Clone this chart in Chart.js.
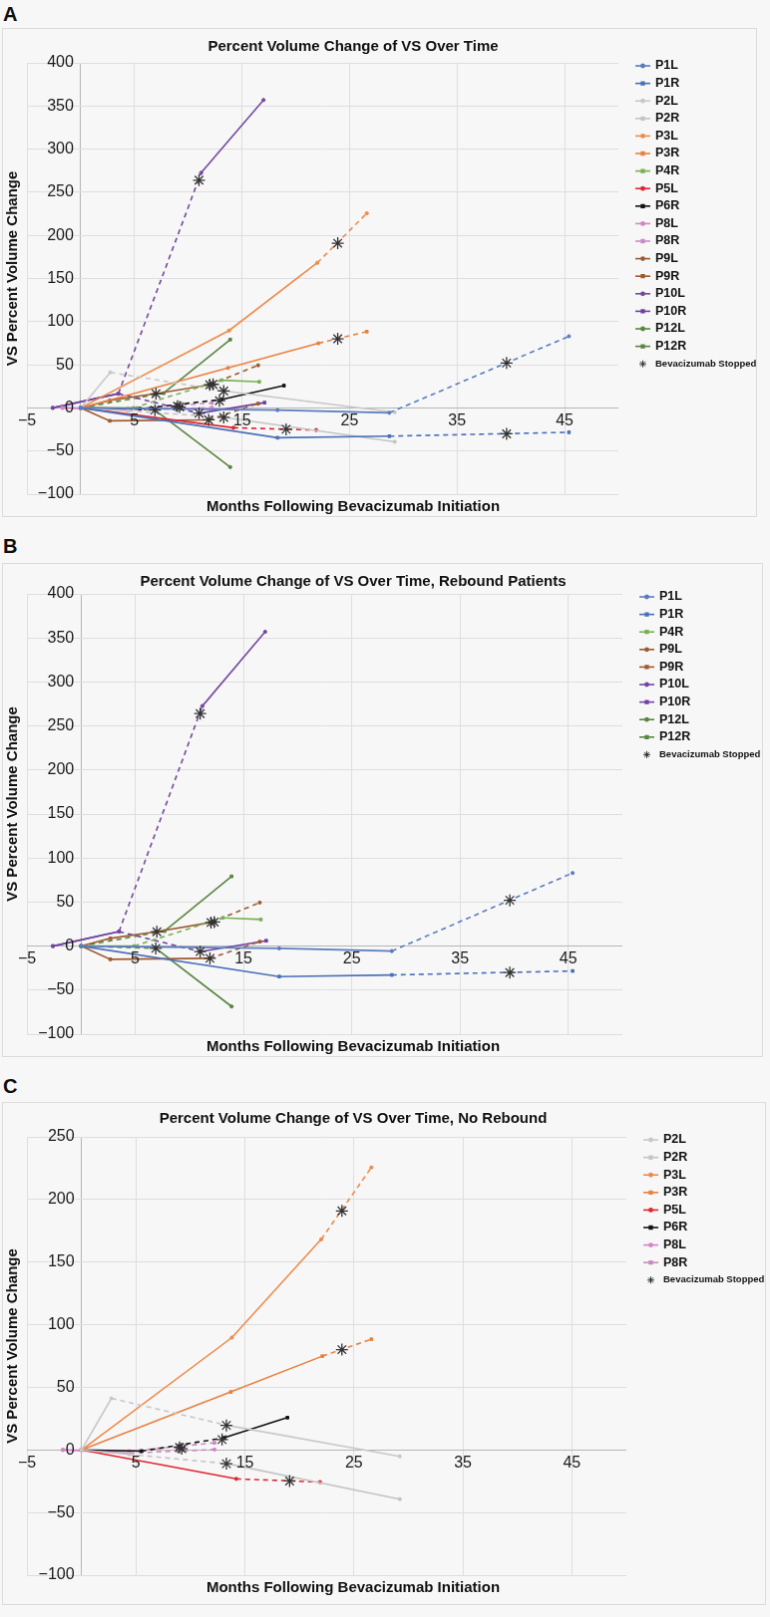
<!DOCTYPE html>
<html>
<head>
<meta charset="utf-8">
<script src="https://cdn.jsdelivr.net/npm/chart.js@4.4.1/dist/chart.umd.min.js"></script>
<style>
  body { margin: 0; background: #f7f7f7; width: 770px; height: 1617px; position: relative; }
  .tag { position: absolute; left: 3px; font: bold 20px "Liberation Sans", Arial, sans-serif; line-height: 20px; color: #111; }
  canvas { position: absolute; left: 2px; border: 1px solid #dcdcdc; background: #f7f7f7; }
</style>
</head>
<body>
<div class="tag" style="top:4px">A</div>
<canvas id="chartA" width="755" height="489" style="top:28px"></canvas>
<div class="tag" style="top:536px">B</div>
<canvas id="chartB" width="761" height="494" style="top:563px"></canvas>
<div class="tag" style="top:1076px">C</div>
<canvas id="chartC" width="764" height="503" style="top:1102px"></canvas>

<script>
'use strict';

// series, months after bevacizumab start / % volume change
var seriesNames = ['P1L', 'P1R', 'P2L', 'P2R', 'P3L', 'P3R', 'P4R', 'P5L', 'P6R',
  'P8L', 'P8R', 'P9L', 'P9R', 'P10L', 'P10R', 'P12L', 'P12R'];

var monthsX = [
  [0, 18.3, 28.7, 45.4],
  [0, 18.3, 28.7, 45.4],
  [0, 2.75, 13.4, 29.2],
  [0, 4.4, 13.4, 29.2],
  [0, 13.8, 22.0, 26.6],
  [0, 13.7, 22.1, 26.6],
  [0, 4.9, 13.1, 16.6],
  [0, 14.2, 21.9],
  [0, 5.5, 13.1, 18.9],
  [-1.7, 4.4, 12.2],
  [-1.7, 4.4, 12.2],
  [0, 2.7, 6.9, 12.0, 16.5],
  [0, 2.7, 11.9, 16.5],
  [-2.6, 3.5, 11.2, 17.0],
  [-2.6, 3.5, 11.0, 17.1],
  [0, 6.9, 13.9],
  [0, 7.7, 13.9]
];

var pctChange = [
  [0, -2.6, -5.7, 83],
  [0, -34.6, -32.8, -28.3],
  [0, 41.2, 19.6, -5.1],
  [0, -3.5, -11, -39.3],
  [0, 89.7, 168.2, 225.6],
  [0, 46.3, 74.9, 88.4],
  [0, 0, 32.1, 30.2],
  [0, -23.1, -25.7],
  [0, -1, 9.7, 25.8],
  [0, -2.5, 0.3],
  [0, -1, 5.7],
  [0, 8.7, 16.3, 26.8, 49.4],
  [0, -15, -13.9, 5],
  [0, 16.5, 272.6, 357],
  [0, 16.5, -6.3, 6.1],
  [0, -2.6, -68.6],
  [0, 17, 79.2]
];

// 1 = interval drawn dashed (one flag per segment)
var offDrug = [
  [0, 0, 1], [0, 0, 1], [0, 1, 0], [0, 1, 0], [0, 0, 1], [0, 0, 1], [0, 1, 0],
  [0, 1], [0, 1, 0], [0, 1], [0, 1], [0, 0, 0, 1], [0, 0, 1], [0, 1, 0], [0, 1, 0],
  [1, 0], [1, 0]
];

// "Bevacizumab Stopped" marks, one per series
var stopX = [39.6, 39.6, 13.3, 13.3, 23.9, 23.9, 12.3, 19.1, 12.9, 9.0, 9.2, 12.0, 11.9, 11.0, 11.0, 6.9, 7.0];
var stopY = [52, -30.1, 19.6, -11, 190.9, 80.1, 27.3, -24.8, 8.3, 2, 1, 26.8, -13.9, 264, -6.3, -2.6, 16.3];

var reboundGroup = ['P1L', 'P1R', 'P4R', 'P9L', 'P9R', 'P10L', 'P10R', 'P12L', 'P12R'];
var noReboundGroup = ['P2L', 'P2R', 'P3L', 'P3R', 'P5L', 'P6R', 'P8L', 'P8R'];

var xGrid = [-5, 0, 5, 15, 25, 35, 45];
var xTickLabels = [-5, 5, 15, 25, 35, 45];

var colors = ['#5a7cc0', '#4a70b8', '#c8c8c8', '#c4c4c4', '#ee8a4a', '#ea8040', '#78b055',
  '#e0262e', '#111111', '#d383c6', '#c98bc2', '#9a5b30', '#a05a30', '#7448a0', '#7040a0',
  '#5a8540', '#5a8540'];

var FONT = '"Liberation Sans", Arial, Helvetica, sans-serif';

function fmt(v) {
  return v < 0 ? '\u2212' + Math.abs(v) : String(v);
}

// tick labels sit on the axes, titles and the legend are drawn by hand
var panelText = {
  id: 'panelText',
  afterDraw: function(chart, args, o) {
    var ctx = chart.ctx, a = chart.chartArea, sx = chart.scales.x, sy = chart.scales.y;
    var x0 = sx.getPixelForValue(0), y0 = sy.getPixelForValue(0);
    ctx.save();
    ctx.fillStyle = '#1a1a1a';
    ctx.font = '16px ' + FONT;
    ctx.textBaseline = 'middle';
    ctx.textAlign = 'right';
    o.yTicks.forEach(function(v) { ctx.fillText(fmt(v), x0 - 7, sy.getPixelForValue(v)); });
    ctx.textAlign = 'center';
    xTickLabels.forEach(function(v) { ctx.fillText(fmt(v), sx.getPixelForValue(v), y0 + 13); });

    ctx.fillStyle = '#111';
    ctx.font = 'bold 15px ' + FONT;
    ctx.fillText(o.title, 351, o.titleY);
    ctx.fillText('Months Following Bevacizumab Initiation', 351, a.bottom + 13);
    ctx.save();
    ctx.translate(10, (a.top + a.bottom) / 2 - 10);
    ctx.rotate(-Math.PI / 2);
    ctx.fillText('VS Percent Volume Change', 0, 0);
    ctx.restore();

    // legend
    var lx = a.right + 17, ly = a.top + 3;
    ctx.textAlign = 'left';
    ctx.font = 'bold 12.5px ' + FONT;
    chart.data.datasets.slice(1).forEach(function(ds) {
      ctx.strokeStyle = ds.borderColor;
      ctx.fillStyle = ds.borderColor;
      ctx.lineWidth = 1.6;
      ctx.beginPath();
      ctx.moveTo(lx, ly);
      ctx.lineTo(lx + 15, ly);
      ctx.stroke();
      Chart.helpers.drawPoint(ctx, {pointStyle: ds.pointStyle, radius: ds.pointRadius, rotation: 0, borderWidth: 1}, lx + 7.5, ly);
      ctx.fillStyle = '#111';
      ctx.fillText(ds.label, lx + 20, ly);
      ly += 17.6;
    });
    ctx.strokeStyle = '#333';
    ctx.lineWidth = 1;
    Chart.helpers.drawPoint(ctx, {pointStyle: 'star', radius: 3.5, rotation: 0, borderWidth: 1}, lx + 7.5, ly);
    ctx.fillStyle = '#111';
    ctx.font = 'bold 9.5px ' + FONT;
    ctx.fillText('Bevacizumab Stopped', lx + 20, ly);
    ctx.restore();
  }
};

function makeChart(canvasId, names, yMax, title, titleY, pad) {
  var idx = names.map(function(n) { return seriesNames.indexOf(n); });
  var yTicks = [];
  for (var v = -100; v <= yMax; v += 50) yTicks.push(v);

  var datasets = [{
    label: 'Bevacizumab Stopped',
    data: idx.map(function(i) { return {x: stopX[i], y: stopY[i]}; }),
    showLine: false,
    pointStyle: 'star',
    pointRadius: 6,
    borderColor: '#333',
    backgroundColor: '#333',
    borderWidth: 1.3
  }];
  idx.forEach(function(i) {
    var isR = seriesNames[i].slice(-1) === 'R';
    datasets.push({
      label: seriesNames[i],
      data: monthsX[i].map(function(x, j) { return {x: x, y: pctChange[i][j]}; }),
      showLine: true,
      borderColor: colors[i],
      backgroundColor: colors[i],
      borderWidth: 1.6,
      pointStyle: isR ? 'rect' : 'circle',
      pointRadius: isR ? 1.9 : 1.6,
      pointBorderWidth: 1,
      segment: {
        borderDash: function(c) { return offDrug[i][c.p0DataIndex] ? [5, 4] : undefined; }
      }
    });
  });

  var gridColor = function(c) { return c.tick && c.tick.value === 0 ? '#b5b5b5' : '#dedede'; };

  return new Chart(document.getElementById(canvasId), {
    type: 'scatter',
    data: {datasets: datasets},
    options: {
      responsive: false,
      animation: false,
      layout: {padding: pad},
      scales: {
        x: {
          type: 'linear', min: -5, max: 50,
          afterBuildTicks: function(s) { s.ticks = xGrid.map(function(v) { return {value: v}; }); },
          grid: {color: gridColor, drawTicks: false},
          border: {display: false},
          ticks: {display: false}
        },
        y: {
          type: 'linear', min: -100, max: yMax,
          ticks: {display: false, stepSize: 50},
          grid: {color: gridColor, drawTicks: false},
          border: {display: false}
        }
      },
      plugins: {
        legend: {display: false},
        tooltip: {enabled: false},
        panelText: {title: title, titleY: titleY, yTicks: yTicks}
      }
    },
    plugins: [panelText]
  });
}

makeChart('chartA', seriesNames, 400, 'Percent Volume Change of VS Over Time', 18,
  {left: 24, top: 34, right: 138, bottom: 22});
makeChart('chartB', reboundGroup, 400, 'Percent Volume Change of VS Over Time, Rebound Patients', 18,
  {left: 24, top: 30, right: 140, bottom: 22});
makeChart('chartC', noReboundGroup, 250, 'Percent Volume Change of VS Over Time, No Rebound', 16,
  {left: 24, top: 34, right: 139, bottom: 29});
</script>
</body>
</html>
